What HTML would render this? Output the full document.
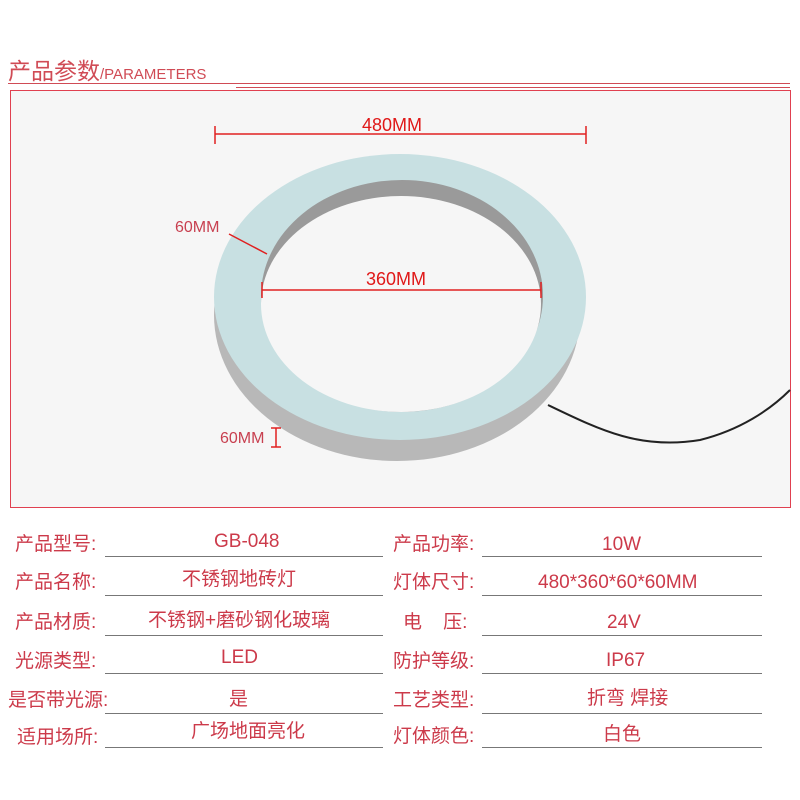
<!DOCTYPE html>
<html><head><meta charset="utf-8"><style>
body{margin:0;width:800px;height:800px;background:#fff;position:relative;overflow:hidden;font-family:"Liberation Sans","Noto Sans CJK SC",sans-serif}
.t{position:absolute;color:#cc3a4a;font-size:19px;white-space:nowrap;line-height:22px}
.l{position:absolute;height:1px;background:#777}
</style></head><body>
<div class="t" style="left:8px;top:58px;font-size:23px;line-height:26px;color:#d04b55">产品参数<span style="font-size:15px">/PARAMETERS</span></div>
<div style="position:absolute;left:8px;top:83px;width:782px;height:1px;background:#d04b55"></div>
<div style="position:absolute;left:236px;top:87px;width:554px;height:1px;background:#d04b55"></div>
<div style="position:absolute;left:10px;top:90px;width:779px;height:416px;border:1px solid #e04050;background:#f6f6f6"></div>
<svg style="position:absolute;left:0;top:0" width="800" height="800">
<ellipse cx="397" cy="315" rx="183" ry="146" fill="#b8b8b8"/>
<ellipse cx="400" cy="297" rx="186" ry="143" fill="#c8e0e2"/>
<ellipse cx="402" cy="296" rx="141" ry="116" fill="#9a9a9a"/>
<ellipse cx="401" cy="304" rx="140" ry="108" fill="#f6f6f6"/>
<path d="M548 405 C600 430 640 450 700 440 C740 430 770 410 790 390" stroke="#222" stroke-width="2" fill="none"/>
<g stroke="#e02020" stroke-width="1.5">
<line x1="215" y1="134" x2="586" y2="134"/><line x1="215" y1="126" x2="215" y2="144"/><line x1="586" y1="126" x2="586" y2="144"/>
<line x1="262" y1="290" x2="541" y2="290"/><line x1="262" y1="282" x2="262" y2="298"/><line x1="541" y1="282" x2="541" y2="298"/>
<line x1="229" y1="234" x2="267" y2="254"/>
<line x1="276" y1="428" x2="276" y2="447"/><line x1="271" y1="428" x2="281" y2="428"/><line x1="271" y1="447" x2="281" y2="447"/>
</g>
</svg>
<div class="t" style="left:362px;top:114px;color:#e01818;font-size:18px">480MM</div>
<div class="t" style="left:366px;top:268px;color:#e01818;font-size:18px">360MM</div>
<div class="t" style="left:175px;top:217px;font-size:16px;color:#c84050">60MM</div>
<div class="t" style="left:220px;top:428px;font-size:16px;color:#c84050">60MM</div>

<div class="t" style="left:15px;top:534px">产品型号:</div><div class="l" style="left:105px;top:556px;width:278px"></div><div class="t" style="left:214px;top:531px">GB-048</div>
<div class="t" style="left:15px;top:572px">产品名称:</div><div class="l" style="left:105px;top:595px;width:278px"></div><div class="t" style="left:182px;top:569px">不锈钢地砖灯</div>
<div class="t" style="left:15px;top:612px">产品材质:</div><div class="l" style="left:105px;top:635px;width:278px"></div><div class="t" style="left:148px;top:610px">不锈钢+磨砂钢化玻璃</div>
<div class="t" style="left:15px;top:651px">光源类型:</div><div class="l" style="left:105px;top:673px;width:278px"></div><div class="t" style="left:221px;top:647px">LED</div>
<div class="t" style="left:8px;top:690px">是否带光源:</div><div class="l" style="left:105px;top:713px;width:278px"></div><div class="t" style="left:229px;top:689px">是</div>
<div class="t" style="left:17px;top:727px">适用场所:</div><div class="l" style="left:105px;top:747px;width:278px"></div><div class="t" style="left:191px;top:721px">广场地面亮化</div>

<div class="t" style="left:393px;top:534px">产品功率:</div><div class="l" style="left:482px;top:556px;width:280px"></div><div class="t" style="left:602px;top:534px">10W</div>
<div class="t" style="left:393px;top:572px">灯体尺寸:</div><div class="l" style="left:482px;top:595px;width:280px"></div><div class="t" style="left:538px;top:572px">480*360*60*60MM</div>
<div class="t" style="left:403px;top:612px">电&nbsp;&nbsp;&nbsp;&nbsp;压:</div><div class="l" style="left:482px;top:635px;width:280px"></div><div class="t" style="left:607px;top:612px">24V</div>
<div class="t" style="left:393px;top:651px">防护等级:</div><div class="l" style="left:482px;top:673px;width:280px"></div><div class="t" style="left:606px;top:650px">IP67</div>
<div class="t" style="left:393px;top:690px">工艺类型:</div><div class="l" style="left:482px;top:713px;width:280px"></div><div class="t" style="left:587px;top:688px">折弯 焊接</div>
<div class="t" style="left:393px;top:726px">灯体颜色:</div><div class="l" style="left:482px;top:747px;width:280px"></div><div class="t" style="left:603px;top:724px">白色</div>
</body></html>
